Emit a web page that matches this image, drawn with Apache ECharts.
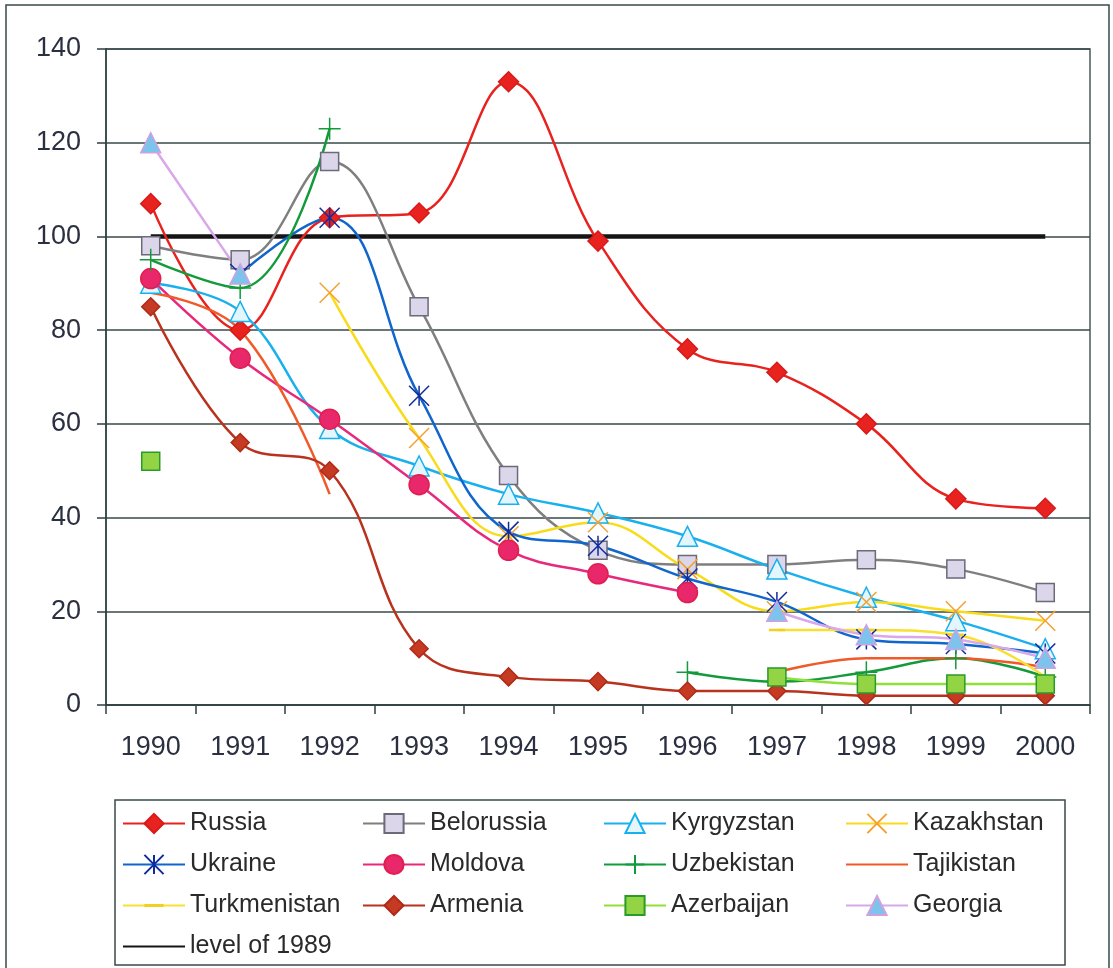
<!DOCTYPE html>
<html>
<head>
<meta charset="utf-8">
<script src="https://cdn.jsdelivr.net/npm/echarts@6/dist/echarts.min.js"></script>
<style>
  html, body { margin: 0; padding: 0; background: #fff; }
  #chart { width: 1113px; height: 968px; }
</style>
</head>
<body>
<div id="chart"></div>
<script>
// Data
var years = ['1990', '1991', '1992', '1993', '1994', '1995', '1996', '1997', '1998', '1999', '2000'];
var russia       = [107, 80, 104, 105, 133, 99, 76, 71, 60, 44, 42];
var belorussia   = [98, 95, 116, 85, 49, 33, 30, 30, 31, 29, 24];
var kyrgyzstan   = [90, 84, 59, 51, 45, 41, 36, 29, 23, 18, 12];
var kazakhstan   = [null, null, 88, 57, 36, 39, 29, 20, 22, 20, 18];
var ukraine      = [null, 92, 104, 66, 37, 34, 27, 22, 14, 13, 11];
var moldova      = [91, 74, 61, 47, 33, 28, 24, null, null, null, null];
var uzbekistan   = [95, 89, 123, null, null, null, 7, 5, 7, 10, 6];
var tajikistan   = [88, 80, 45, null, null, null, null, 7, 10, 10, 8];
var turkmenistan = [null, null, null, null, null, null, null, 16, 16, 15, 6];
var armenia      = [85, 56, 50, 12, 6, 5, 3, 3, 2, 2, 2];
var azerbaijan   = [52, null, null, null, null, null, null, 6, 4.5, 4.5, 4.5];
var georgia      = [120, 92, null, null, null, null, null, 20, 15, 14, 10];
var level1989    = [100, 100, 100, 100, 100, 100, 100, 100, 100, 100, 100];

var FONT = '"Liberation Sans", Arial, sans-serif';

// stroke-only marker shapes
var xMark = 'path://M0,0L20,20M20,0L0,20';
var starMark = 'path://M0,0L20,20M20,0L0,20M10,0L10,20';
var plusMark = 'path://M10,0L10,20M0,10L20,10';
// thin bar inside a square box (tiny corner specks keep the box square)
var dashMark = 'path://M0,0L0.01,0L0,0.01ZM20,20L19.99,20L20,19.99ZM0,8.5L20,8.5L20,11.5L0,11.5Z';

function line(name, data, lineColor, symbol, size, fill, border, width) {
    return {
        name: name,
        type: 'line',
        data: data,
        smooth: 0.4,
        symbol: symbol,
        symbolSize: size,
        showAllSymbol: true,
        connectNulls: false,
        lineStyle: { color: lineColor, width: width || 2.5 },
        itemStyle: { color: fill, borderColor: border, borderWidth: 1.5 },
        emphasis: { disabled: true }
    };
}

var chart = echarts.init(document.getElementById('chart'), null, { renderer: 'canvas' });

var legendBase = {
    orient: 'vertical',
    top: 811,
    padding: 0,
    itemWidth: 62,
    itemHeight: 24,
    itemGap: 16,
    selectedMode: false,
    textStyle: { fontFamily: FONT, fontSize: 25, color: '#2a2a2a' }
};

var turkmenSeries = line('Turkmenistan', turkmenistan, '#f8e030', dashMark, 16, '#f0d020', '#f0d020');
turkmenSeries.itemStyle.borderWidth = 0;

var option = {
    animation: false,
    backgroundColor: '#fff',
    graphic: [
        { type: 'rect', shape: { x: 6, y: 5, width: 1103, height: 970 },
          style: { fill: 'none', stroke: '#3a4a4a', lineWidth: 1.5 } },
        { type: 'rect', shape: { x: 115, y: 800, width: 950, height: 165 },
          style: { fill: 'none', stroke: '#3a4a4a', lineWidth: 1.5 } }
    ],
    grid: {
        left: 106, right: 23, top: 49, bottom: 263,
        show: true, borderColor: '#4a5a5a', borderWidth: 1.5
    },
    legend: [
        Object.assign({ left: 122, data: ['Russia', 'Ukraine', 'Turkmenistan', 'level of 1989'] }, legendBase),
        Object.assign({ left: 362, data: ['Belorussia', 'Moldova', 'Armenia'] }, legendBase),
        Object.assign({ left: 603, data: ['Kyrgyzstan', 'Uzbekistan', 'Azerbaijan'] }, legendBase),
        Object.assign({ left: 845, data: ['Kazakhstan', 'Tajikistan', 'Georgia'] }, legendBase)
    ],
    xAxis: {
        type: 'category',
        data: years,
        boundaryGap: true,
        axisLine: { lineStyle: { color: '#2f3f3f', width: 1.5 } },
        axisTick: { show: true, length: 9, inside: false, lineStyle: { color: '#2f3f3f', width: 1.5 } },
        axisLabel: { fontFamily: FONT, fontSize: 27, color: '#2a3040', margin: 29 },
        splitLine: { show: false }
    },
    yAxis: {
        type: 'value',
        min: 0, max: 140, interval: 20,
        axisLine: { show: true, lineStyle: { color: '#2f3f3f', width: 1.5 } },
        axisTick: { show: true, length: 9, lineStyle: { color: '#2f3f3f', width: 1.5 } },
        axisLabel: { fontFamily: FONT, fontSize: 27, color: '#2a3040', margin: 25 },
        splitLine: { show: true, lineStyle: { color: '#3a4a4a', width: 1.5 } }
    },
    series: [
        Object.assign(line('level of 1989', level1989, '#151515', 'none', 0, 'transparent', 'transparent', 4.5), { smooth: false }),
        line('Russia', russia, '#e8231f', 'diamond', 20, '#e8231f', '#d81a1a'),
        line('Belorussia', belorussia, '#7f7f7f', 'rect', 18, '#dcd6ea', '#6a6a78'),
        line('Kyrgyzstan', kyrgyzstan, '#1ab0ee', 'triangle', 20, '#e2f6fb', '#1ab0ee'),
        line('Kazakhstan', kazakhstan, '#f8dc1c', xMark, 20, 'transparent', '#f5a030'),
        line('Ukraine', ukraine, '#1066cc', starMark, 20, 'transparent', '#102c9c'),
        line('Moldova', moldova, '#e8287a', 'circle', 20, '#e8286a', '#e01e50'),
        line('Uzbekistan', uzbekistan, '#139b3b', plusMark, 22, 'transparent', '#139b3b'),
        line('Tajikistan', tajikistan, '#f05a28', 'none', 0, 'transparent', 'transparent'),
        turkmenSeries,
        line('Armenia', armenia, '#b8321e', 'diamond', 18, '#c43a22', '#b02a18'),
        line('Azerbaijan', azerbaijan, '#8fe03a', 'rect', 18, '#92d444', '#2a9a2a'),
        line('Georgia', georgia, '#d8a8e8', 'triangle', 20, '#7cc4ec', '#d0a0e0')
    ]
};

chart.setOption(option);
</script>
</body>
</html>
